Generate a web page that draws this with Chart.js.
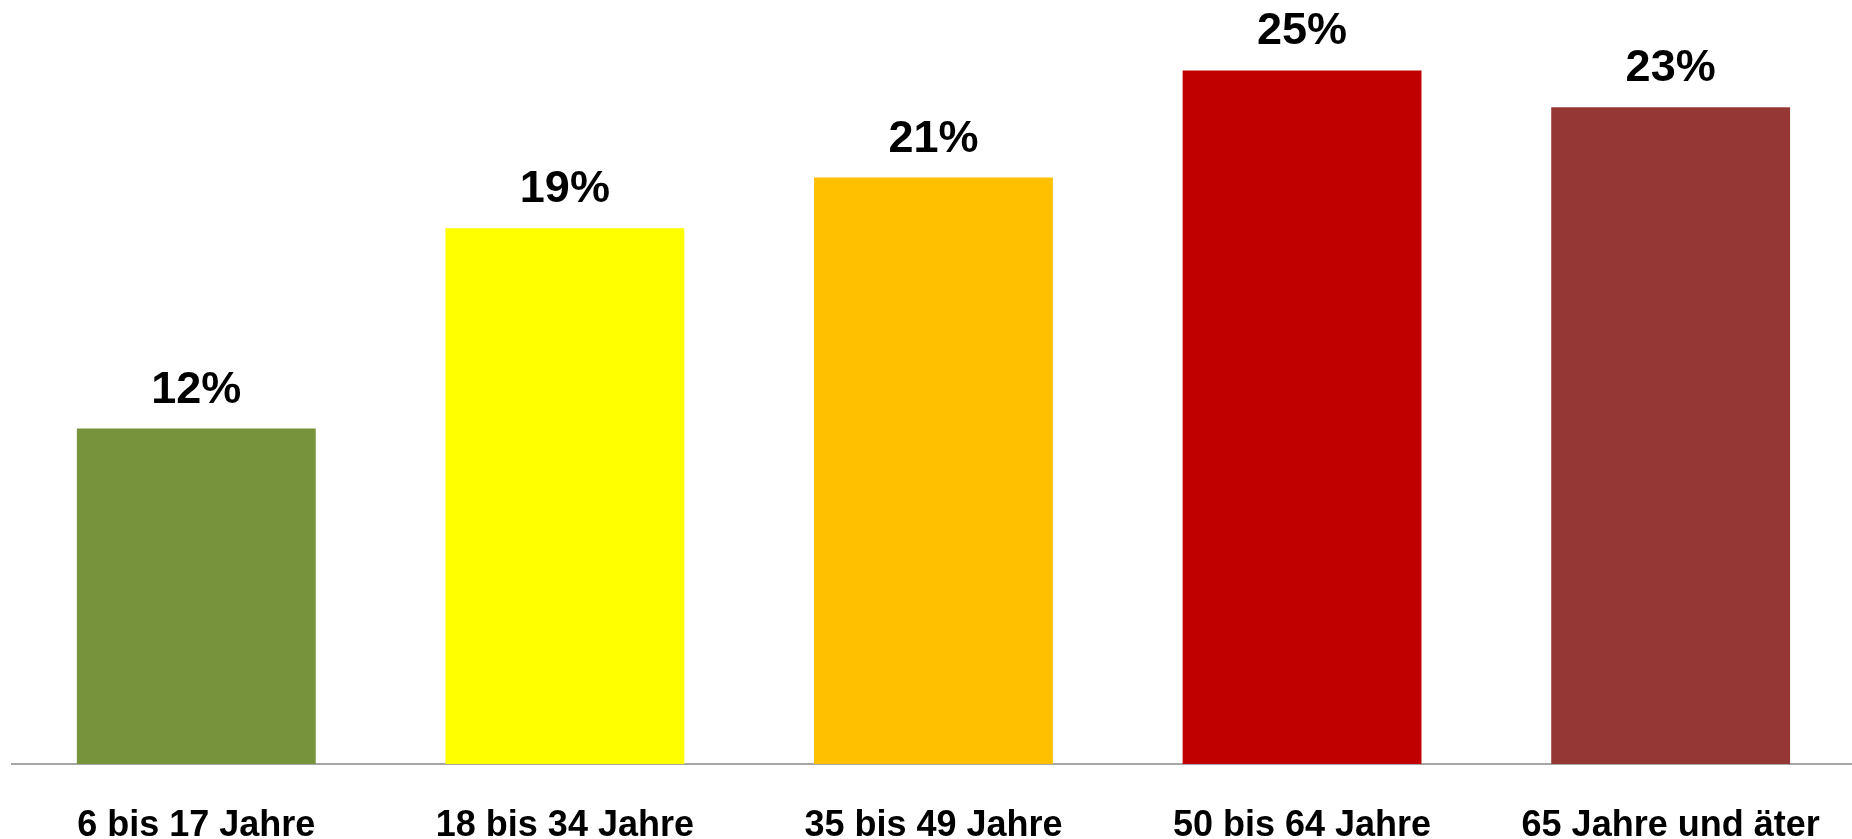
<!DOCTYPE html>
<html>
<head>
<meta charset="utf-8">
<script src="https://cdn.jsdelivr.net/npm/chart.js@4"></script>
<style>
  html, body { margin: 0; padding: 0; background: #fff; overflow: hidden; }
  #wrap { position: relative; width: 1860px; height: 839px; }
</style>
</head>
<body>
<div id="wrap"><canvas id="chart"></canvas></div>
<script>
const categories = ['6 bis 17 Jahre', '18 bis 34 Jahre', '35 bis 49 Jahre', '50 bis 64 Jahre', '65 Jahre und äter']
const shares = [11.9, 19.0, 20.8, 24.6, 23.3]
const barColors = ['#77933C', '#FFFF00', '#FFC000', '#C00000', '#953735']

// draws the "12%" style labels above each bar
const valueLabels = {
  id: 'valueLabels',
  afterDatasetsDraw(chart) {
    const ctx = chart.ctx
    const meta = chart.getDatasetMeta(0)
    ctx.save()
    ctx.font = 'bold 45px "Liberation Sans", Arial, sans-serif'
    ctx.fillStyle = '#000'
    ctx.textAlign = 'center'
    ctx.textBaseline = 'alphabetic'
    meta.data.forEach((bar, i) => {
      ctx.fillText(Math.round(shares[i]) + '%', bar.x, bar.y - 26)
    })
    ctx.restore()
  }
}

new Chart(document.getElementById('chart'), {
  type: 'bar',
  data: {
    labels: categories,
    datasets: [{
      data: shares,
      backgroundColor: barColors,
      borderWidth: 0,
      categoryPercentage: 1,
      barPercentage: 0.648
    }]
  },
  options: {
    responsive: true,
    maintainAspectRatio: false,
    animation: false,
    layout: { padding: { left: 12, right: 3, top: 0, bottom: 0 } },
    plugins: {
      legend: { display: false },
      tooltip: { enabled: false }
    },
    scales: {
      x: {
        grid: { display: false, drawTicks: false },
        border: { display: true, color: '#a6a6a6', width: 2 },
        ticks: {
          color: '#000',
          padding: 40,
          maxRotation: 0,
          autoSkip: false,
          font: { family: '"Liberation Sans", Arial, sans-serif', size: 36, weight: 'bold' }
        },
        afterFit(scale) { scale.height = 75 }
      },
      y: {
        display: false,
        min: 0,
        max: 27.1
      }
    }
  },
  plugins: [valueLabels]
})
</script>
</body>
</html>
